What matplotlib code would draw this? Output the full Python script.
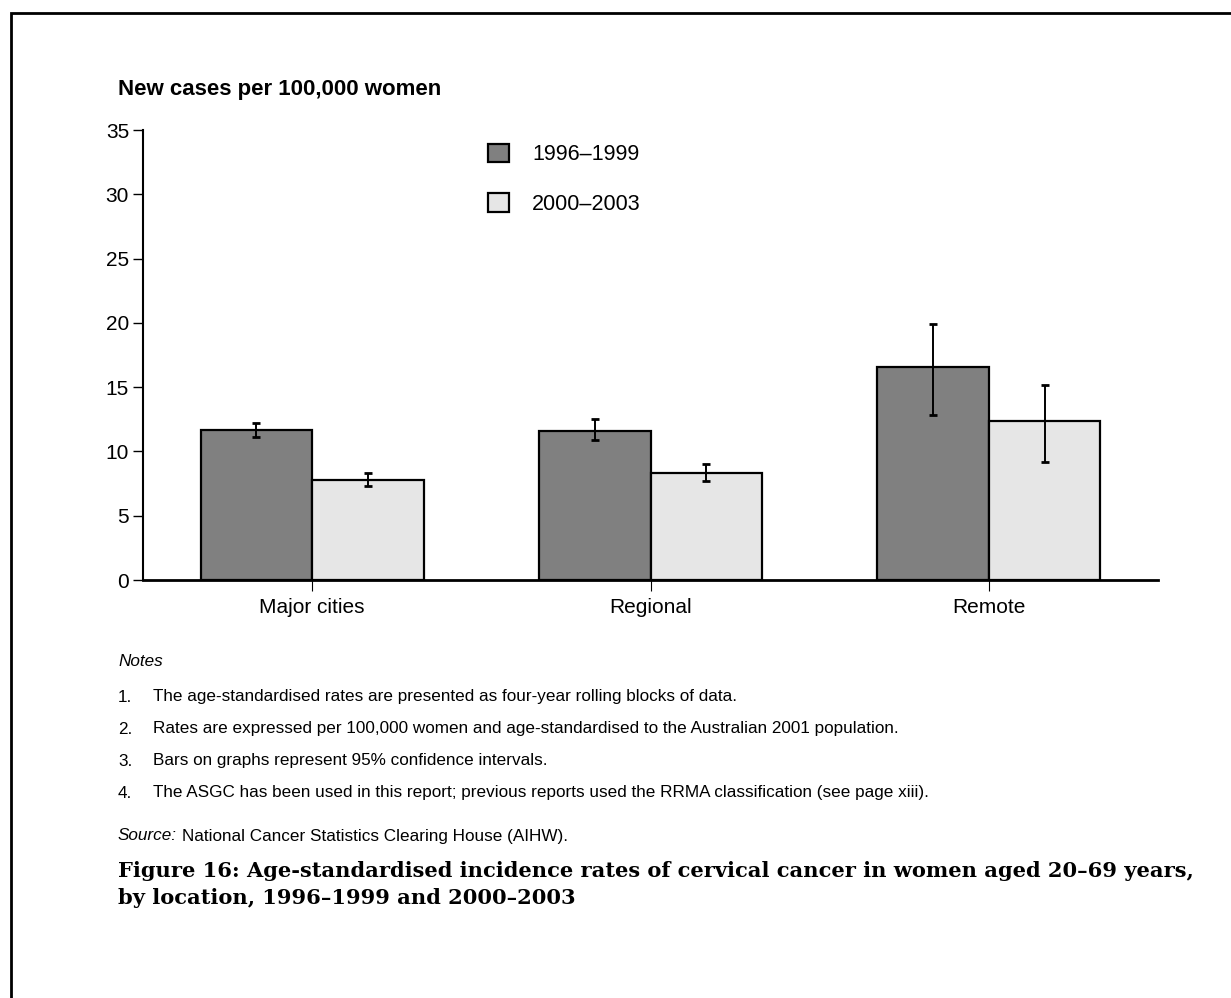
import numpy as np
import matplotlib.pyplot as plt
from matplotlib.patches import Rectangle

plt.rcParams['font.family'] = ['Liberation Sans', 'DejaVu Sans']

locations = ['Major cities', 'Regional', 'Remote']
series = ['1996\u20131999', '2000\u20132003']
rate_9699 = [11.65, 11.6, 16.55]
low_9699 = [11.1, 10.9, 12.8]
high_9699 = [12.25, 12.5, 19.9]
rate_0003 = [7.8, 8.35, 12.35]
low_0003 = [7.3, 7.7, 9.2]
high_0003 = [8.3, 9.0, 15.2]

notes = [
    'The age-standardised rates are presented as four-year rolling blocks of data.',
    'Rates are expressed per 100,000 women and age-standardised to the Australian 2001 population.',
    'Bars on graphs represent 95% confidence intervals.',
    'The ASGC has been used in this report; previous reports used the RRMA classification (see page xiii).',
]

W, H = 1231, 998
fig = plt.figure(figsize=(W / 100, H / 100), dpi=100)
ax = fig.add_axes([143 / W, 1 - 580 / H, (1158 - 143) / W, (580 - 130) / H])

x = np.arange(len(locations))
bw = 0.33
colors = ['#808080', '#e6e6e6']
data = [(rate_9699, low_9699, high_9699), (rate_0003, low_0003, high_0003)]
for i, (vals, lo, hi) in enumerate(data):
    pos = x + (i - 0.5) * bw
    ax.bar(pos, vals, bw, color=colors[i], edgecolor='black', linewidth=1.6,
           label=series[i], zorder=2)
    vals = np.array(vals)
    yerr = [vals - np.array(lo), np.array(hi) - vals]
    ax.errorbar(pos, vals, yerr=yerr, fmt='none', ecolor='black',
                elinewidth=1.4, capsize=3, capthick=2, zorder=3)

ax.set_xlim(-0.5, 2.5)
ax.set_ylim(0, 35)
ax.set_yticks(range(0, 36, 5))
ax.set_xticks(x)
ax.set_xticklabels(locations)
for s in ['top', 'right']:
    ax.spines[s].set_visible(False)
ax.spines['left'].set_linewidth(1.5)
ax.spines['bottom'].set_linewidth(2)
ax.tick_params(axis='y', length=7, width=1, labelsize=15, pad=3)
ax.tick_params(axis='x', length=8, width=0.8, labelsize=15, pad=5)

ax.legend(loc='upper left', bbox_to_anchor=((477 - 143) / 1015, (580 - 133) / 450),
          frameon=False, borderpad=0, fontsize=15.5, handlelength=1.0,
          handleheight=0.95, labelspacing=1.3, handletextpad=1.05)

fig.text(118 / W, 1 - 90 / H, 'New cases per 100,000 women', fontsize=16,
         fontweight='bold', va='center', ha='left')

fs = 12.3
fig.text(118 / W, 1 - 661 / H, 'Notes', fontsize=fs, style='italic', va='center')
ys = [697, 729, 761, 793]
for k, (note, yy) in enumerate(zip(notes, ys)):
    fig.text(118 / W, 1 - yy / H, f'{k + 1}.', fontsize=fs, va='center')
    fig.text(153 / W, 1 - yy / H, note, fontsize=fs, va='center')
src = fig.text(118 / W, 1 - 836 / H, 'Source:', fontsize=fs, style='italic', va='center')
bb = src.get_window_extent(renderer=fig.canvas.get_renderer())
fig.text((bb.x1 + 5) / W, 1 - 836 / H, 'National Cancer Statistics Clearing House (AIHW).',
         fontsize=fs, va='center')

title_font = dict(fontsize=15.1, fontweight='bold', family='DejaVu Serif', va='center')
fig.text(118 / W, 1 - 871 / H,
         'Figure 16: Age-standardised incidence rates of cervical cancer in women aged 20\u201369 years,',
         **title_font)
fig.text(118 / W, 1 - 898 / H, 'by location, 1996\u20131999 and 2000\u20132003', **title_font)

fig.patches.append(Rectangle((11 / W, -0.1), 1.2, 1 - 13 / H + 0.1, transform=fig.transFigure,
                             fill=False, edgecolor='black', linewidth=2))

fig.savefig('out.png', dpi=100)
